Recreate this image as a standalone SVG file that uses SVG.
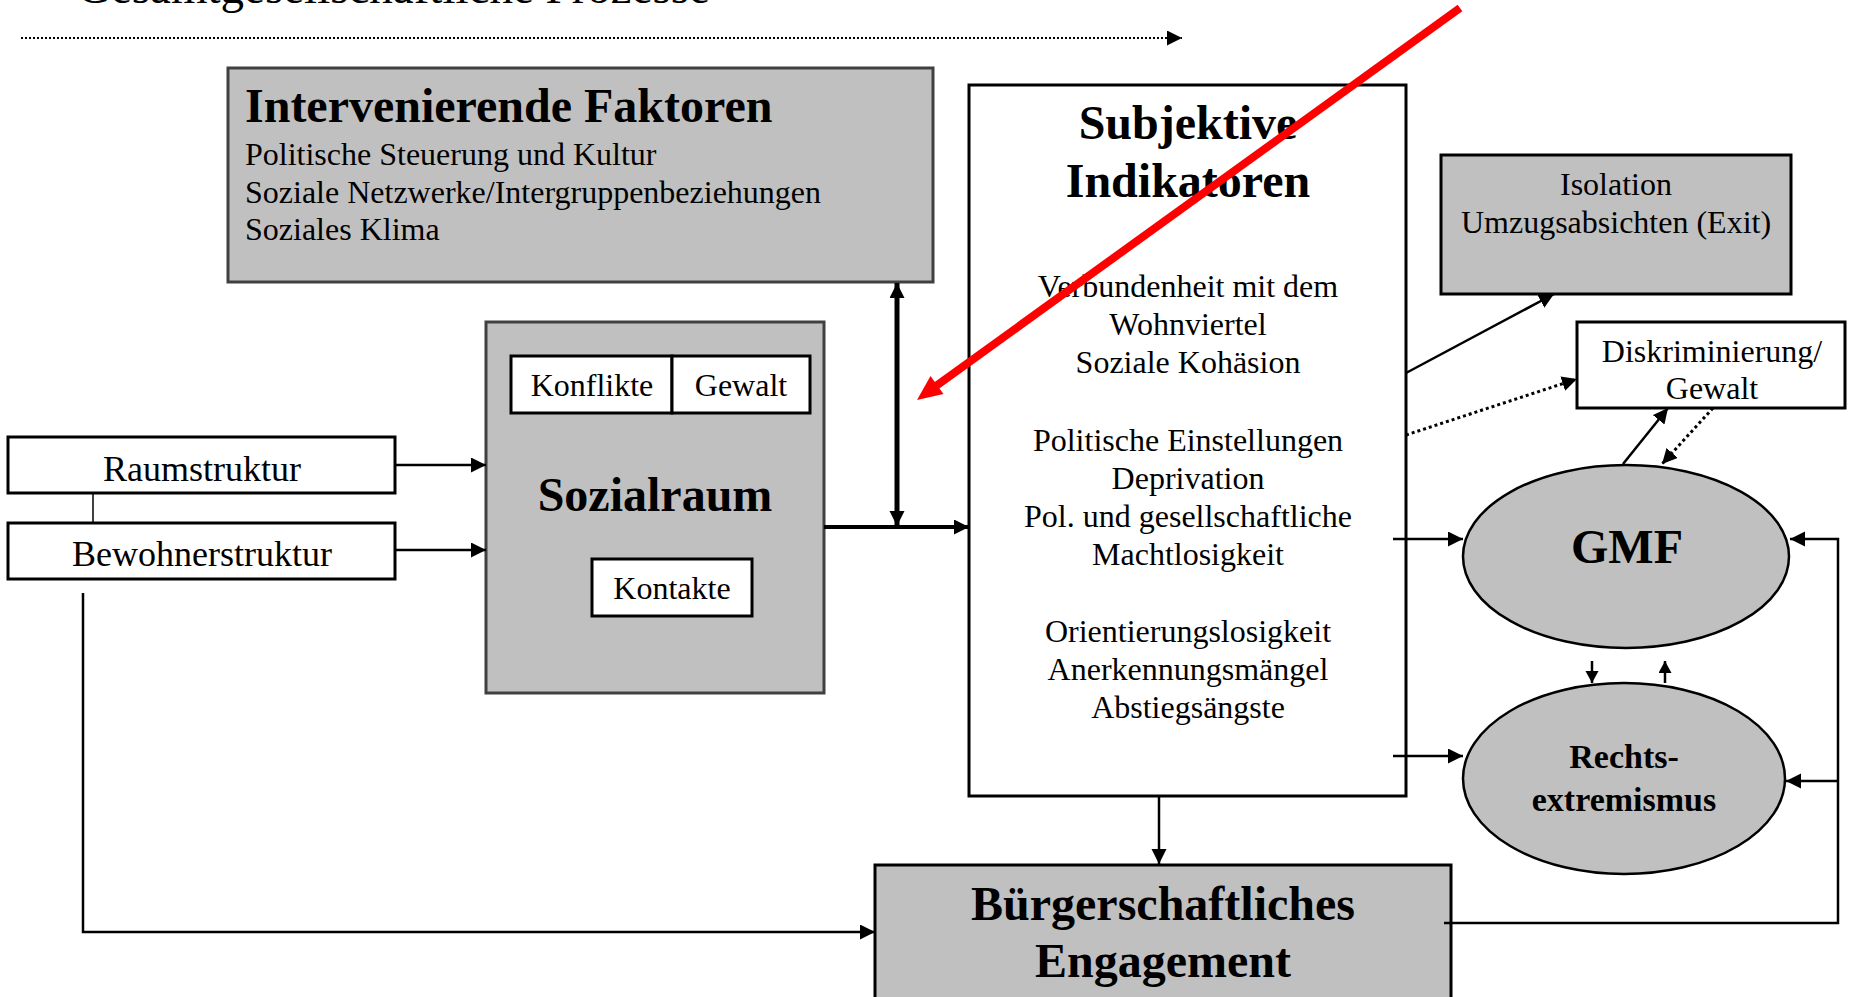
<svg xmlns="http://www.w3.org/2000/svg" width="1850" height="997" viewBox="0 0 1850 997">
<style>
.t{font-family:"Liberation Serif","Times New Roman",serif;fill:#000}
.b{font-weight:bold}
.f32{font-size:32px}
.f36{font-size:36px}
.f48{font-size:48px}
.gbox{fill:#c0c0c0;stroke:#404040;stroke-width:3}
.gbox2{fill:#c0c0c0;stroke:#000;stroke-width:3}
.wbox{fill:#fff;stroke:#000;stroke-width:3}
.ell{fill:#c0c0c0;stroke:#000;stroke-width:2.5}
.c{fill:none;stroke:#000;stroke-width:2.5}
.thick{stroke-width:4}
.thicker{stroke-width:5}
.thin{stroke-width:1.5}
.dot{fill:none;stroke:#000;stroke-width:3;stroke-dasharray:3 3}
</style>
<defs>
<marker id="ah" markerUnits="userSpaceOnUse" markerWidth="16" markerHeight="16" refX="15" refY="7.5" orient="auto-start-reverse"><path d="M0,0 L15,7.5 L0,15 z" fill="#000"/></marker>
<marker id="as" markerUnits="userSpaceOnUse" markerWidth="14" markerHeight="14" refX="12" refY="6.5" orient="auto"><path d="M0,0 L12,6.5 L0,13 z" fill="#000"/></marker>
</defs>
<rect width="1850" height="997" fill="#fff"/>

<g id="header">
<text class="t" x="77" y="3" font-size="47">Gesamtgesellschaftliche Prozesse</text>
</g>

<g id="intervenierende">
<rect class="gbox" x="228" y="68" width="705" height="214"/>
<text class="t b f48" x="245" y="122">Intervenierende Faktoren</text>
<text class="t f32" x="245" y="165">Politische Steuerung und Kultur</text>
<text class="t f32" x="245" y="203">Soziale Netzwerke/Intergruppenbeziehungen</text>
<text class="t f32" x="245" y="240">Soziales Klima</text>
</g>

<g id="raumstruktur">
<rect class="wbox" x="8" y="437" width="387" height="56"/>
<text class="t f36" x="202" y="481" text-anchor="middle">Raumstruktur</text>
</g>

<g id="bewohnerstruktur">
<rect class="wbox" x="8" y="523" width="387" height="56"/>
<text class="t f36" x="202" y="566" text-anchor="middle">Bewohnerstruktur</text>
</g>

<g id="sozialraum">
<rect class="gbox" x="486" y="322" width="338" height="371"/>
<text class="t b f48" x="655" y="511" text-anchor="middle">Sozialraum</text>
</g>
<g id="konflikte">
<rect class="wbox" x="511" y="356" width="161" height="57"/>
<text class="t f32" x="592" y="396" text-anchor="middle">Konflikte</text>
</g>
<g id="gewalt">
<rect class="wbox" x="672" y="356" width="138" height="57"/>
<text class="t f32" x="741" y="396" text-anchor="middle">Gewalt</text>
</g>
<g id="kontakte">
<rect class="wbox" x="592" y="559" width="160" height="57"/>
<text class="t f32" x="672" y="599" text-anchor="middle">Kontakte</text>
</g>

<g id="subjektive">
<rect class="wbox" x="969" y="85" width="437" height="711"/>
<text class="t b f48" x="1188" y="139" text-anchor="middle">Subjektive</text>
<text class="t b f48" x="1188" y="197" text-anchor="middle">Indikatoren</text>
<text class="t f32" x="1188" y="297" text-anchor="middle">Verbundenheit mit dem</text>
<text class="t f32" x="1188" y="335" text-anchor="middle">Wohnviertel</text>
<text class="t f32" x="1188" y="373" text-anchor="middle">Soziale Kohäsion</text>
<text class="t f32" x="1188" y="451" text-anchor="middle">Politische Einstellungen</text>
<text class="t f32" x="1188" y="489" text-anchor="middle">Deprivation</text>
<text class="t f32" x="1188" y="527" text-anchor="middle">Pol. und gesellschaftliche</text>
<text class="t f32" x="1188" y="565" text-anchor="middle">Machtlosigkeit</text>
<text class="t f32" x="1188" y="642" text-anchor="middle">Orientierungslosigkeit</text>
<text class="t f32" x="1188" y="680" text-anchor="middle">Anerkennungsmängel</text>
<text class="t f32" x="1188" y="718" text-anchor="middle">Abstiegsängste</text>
</g>

<g id="isolation">
<rect class="gbox2" x="1441" y="155" width="350" height="139"/>
<text class="t f32" x="1616" y="195" text-anchor="middle">Isolation</text>
<text class="t f32" x="1616" y="233" text-anchor="middle">Umzugsabsichten (Exit)</text>
</g>

<g id="diskriminierung">
<rect class="wbox" x="1577" y="322" width="268" height="86"/>
<text class="t f32" x="1712" y="362" text-anchor="middle">Diskriminierung/</text>
<text class="t f32" x="1712" y="399" text-anchor="middle">Gewalt</text>
</g>

<g id="gmf">
<ellipse class="ell" cx="1626" cy="556.5" rx="163" ry="91.5"/>
<text class="t b f48" x="1627" y="563" text-anchor="middle">GMF</text>
</g>

<g id="rechtsextremismus">
<ellipse class="ell" cx="1624" cy="778.5" rx="161" ry="95.5"/>
<text class="t b" font-size="34" x="1624" y="768" text-anchor="middle">Rechts-</text>
<text class="t b" font-size="34" x="1624" y="811" text-anchor="middle">extremismus</text>
</g>

<g id="buergerschaftliches">
<rect class="gbox2" x="875" y="865" width="576" height="150"/>
<text class="t b f48" x="1163" y="920" text-anchor="middle">Bürgerschaftliches</text>
<text class="t b f48" x="1163" y="977" text-anchor="middle">Engagement</text>
</g>

<g id="connectors">
<path d="M21,38 H1182" fill="none" stroke="#000" stroke-width="2" stroke-dasharray="2 2" marker-end="url(#ah)"/>
<path class="c thin" d="M93,493 V523"/>
<path class="c" d="M395,465 H486" marker-end="url(#ah)"/>
<path class="c" d="M395,550 H486" marker-end="url(#ah)"/>
<path class="c thick" d="M824,527 H969" marker-end="url(#ah)"/>
<path class="c thicker" d="M897,283 V526" marker-start="url(#ah)" marker-end="url(#ah)"/>
<path class="c" d="M1406,373 L1554,294" marker-end="url(#ah)"/>
<path class="dot" d="M1406,435 L1577,379" marker-end="url(#ah)"/>
<path class="c" d="M1623,464 L1668,408" marker-end="url(#ah)"/>
<path class="dot" d="M1713,408 L1662,464" marker-end="url(#ah)"/>
<path class="c" d="M1393,539 H1463" marker-end="url(#ah)"/>
<path class="c" d="M1393,756 H1463" marker-end="url(#ah)"/>
<path class="c" d="M1592,661 V683" marker-end="url(#as)"/>
<path class="c" d="M1665,683 V661" marker-end="url(#as)"/>
<path class="c" d="M1444,923 H1838 V539 H1790" marker-end="url(#ah)"/>
<path class="c" d="M1838,781 H1786" marker-end="url(#ah)"/>
<path class="c" d="M83,593 V932 H875" marker-end="url(#ah)"/>
<path class="c" d="M1159,796 V864" marker-end="url(#ah)"/>
</g>

<g id="red-arrow">
<line x1="1460" y1="8" x2="936" y2="386" stroke="#ff0000" stroke-width="8"/>
<polygon points="917,400 943.5,394 930.5,376" fill="#ff0000"/>
</g>
</svg>
